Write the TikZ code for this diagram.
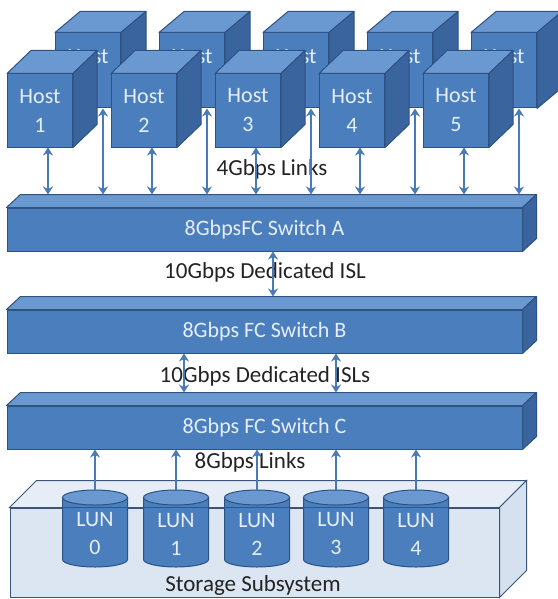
\documentclass[tikz,border=0pt]{standalone}
\usepackage{fontspec}
\setmainfont{Carlito}
\usetikzlibrary{arrows.meta}

\definecolor{cubefront}{RGB}{74,126,189}
\definecolor{cubetop}{RGB}{106,152,208}
\definecolor{cubeside}{RGB}{58,100,158}
\definecolor{cubeedge}{RGB}{46,82,130}
\definecolor{cubetext}{RGB}{230,238,248}
\definecolor{linkblue}{RGB}{72,122,182}
\definecolor{storefront}{RGB}{220,230,242}
\definecolor{storetop}{RGB}{230,237,247}
\definecolor{storeside}{RGB}{214,225,239}
\definecolor{storeedge}{RGB}{58,84,122}
\definecolor{labeltext}{RGB}{35,35,35}

\tikzset{
  facebox/.style={draw=cubeedge, line width=1pt, fill=cubefront, text=cubetext, inner sep=0pt, align=center, font=\fontsize{22}{29}\selectfont},
  hostbox/.style={facebox, minimum width=65pt, minimum height=73pt},
  switchbox/.style={facebox, minimum width=515pt, minimum height=43pt},
  toplid/.style={draw=cubeedge, line width=1pt, fill=cubetop, line join=round},
  sidewall/.style={draw=cubeedge, line width=1pt, fill=cubeside, line join=round},
  storebox/.style={draw=storeedge, line width=1pt, fill=storefront, minimum width=489pt, minimum height=89pt, inner sep=0pt},
  lunwall/.style={draw=cubeedge, line width=1pt, fill=cubefront},
  luncap/.style={draw=cubeedge, line width=1pt, fill=cubetop},
  lunface/.style={text=cubetext, align=center, inner sep=0pt, font=\fontsize{22}{28}\selectfont},
  linklabel/.style={text=labeltext, inner sep=0pt, font=\fontsize{23}{28}\selectfont},
  duplex/.style={draw=linkblue, line width=2.4pt, {Stealth[length=8pt,width=10pt]}-{Stealth[length=8pt,width=10pt]}},
  uplink/.style={draw=linkblue, line width=2.4pt, -{Stealth[length=8pt,width=10pt]}},
}

% top and right faces of a box node
\newcommand{\boxsides}[4][toplid]{%
  \draw[#1] (#2.north west) -- ++(#3,-#4) -- ([shift={(#3,-#4)}]#2.north east) -- (#2.north east) -- cycle;
  \draw[sidewall] (#2.north east) -- ++(#3,-#4) -- ([shift={(#3,-#4)}]#2.south east) -- (#2.south east) -- cycle;}

\begin{document}
\begin{tikzpicture}[x=1pt, y=-1pt]
\useasboundingbox (0,0) rectangle (557,599);

% switches
\node[switchbox] (swA) at (264.5,229.5) {8GbpsFC Switch A};
\boxsides{swA}{14}{13}
\node[switchbox] (swB) at (264.5,331.5) {8Gbps FC Switch B};
\boxsides{swB}{14}{13}
\node[switchbox] (swC) at (264.5,427.5) {8Gbps FC Switch C};
\boxsides{swC}{14}{13}
\coordinate (swAtop) at ([yshift=13pt]swA.north);
\coordinate (swBtop) at ([yshift=13pt]swB.north);
\coordinate (swCtop) at ([yshift=13pt]swC.north);

% hosts, back row then front row
\foreach \i in {1,...,5} {
  \node[hostbox, minimum height=75pt] (back\i) at ({88+104*(\i-1)},70.5) {Host\\\vphantom{1}};
  \boxsides{back\i}{25}{21}
}
\foreach \i in {1,...,5} {
  \node[hostbox] (host\i) at ({40+104*(\i-1)},110.5) {Host\\\i};
  \boxsides{host\i}{24}{23}
}

% storage
\node[storebox] (store) at (254.5,552.5) {};
\draw[storeedge, line width=1pt, fill=storetop] (store.north west) -- ++(27,-27) -- ([shift={(27,-27)}]store.north east) -- (store.north east) -- cycle;
\draw[storeedge, line width=1pt, fill=storeside] (store.north east) -- ++(27,-27) -- ([shift={(27,-27)}]store.south east) -- (store.south east) -- cycle;
\foreach \i/\x in {0/95,1/176,2/257,3/336,4/416} {
  \draw[lunwall] (\x-32.5,497.5) -- (\x-32.5,559.5) arc[start angle=180, end angle=0, x radius=32.5, y radius=7.5] -- (\x+32.5,497.5) -- cycle;
  \draw[luncap] (\x,497.5) ellipse[x radius=32.5, y radius=7.5];
  \node[lunface] (lun\i) at (\x,534) {LUN\\\i};
  \coordinate (lt\i) at (\x,490);
}
\draw[storeedge, line width=1pt] (store.north west) -- (store.north east);
\node[linklabel] (storelabel) at (253,585) {Storage Subsystem};

% link labels
\node[linklabel] (hostlinks) at (272,169) {4Gbps Links};
\node[linklabel] (islAB) at (265,272) {10Gbps Dedicated ISL};
\node[linklabel] (islBC) at (265,376) {10Gbps Dedicated ISLs};
\node[linklabel] (lunlinks) at (250,462) {8Gbps Links};

% links
\foreach \i in {1,...,5} {
  \coordinate (hf\i) at ([xshift=8pt]host\i.south);
  \coordinate (hb\i) at ([xshift=15pt]back\i.south);
  \draw[duplex] (hf\i) -- (hf\i |- swAtop);
  \draw[duplex] (hb\i) -- (hb\i |- swAtop);
}
\coordinate (ab) at ([xshift=8.5pt]swA.south);
\draw[duplex] (ab) -- (ab |- swBtop);
\coordinate (bcL) at ([xshift=-80.5pt]swB.south);
\coordinate (bcR) at ([xshift=71.5pt]swB.south);
\draw[duplex] (bcL) -- (bcL |- swCtop);
\draw[duplex] (bcR) -- (bcR |- swCtop);
\foreach \i in {0,...,4}
  \draw[uplink] (lt\i) -- (lt\i |- swC.south);
\end{tikzpicture}
\end{document}
